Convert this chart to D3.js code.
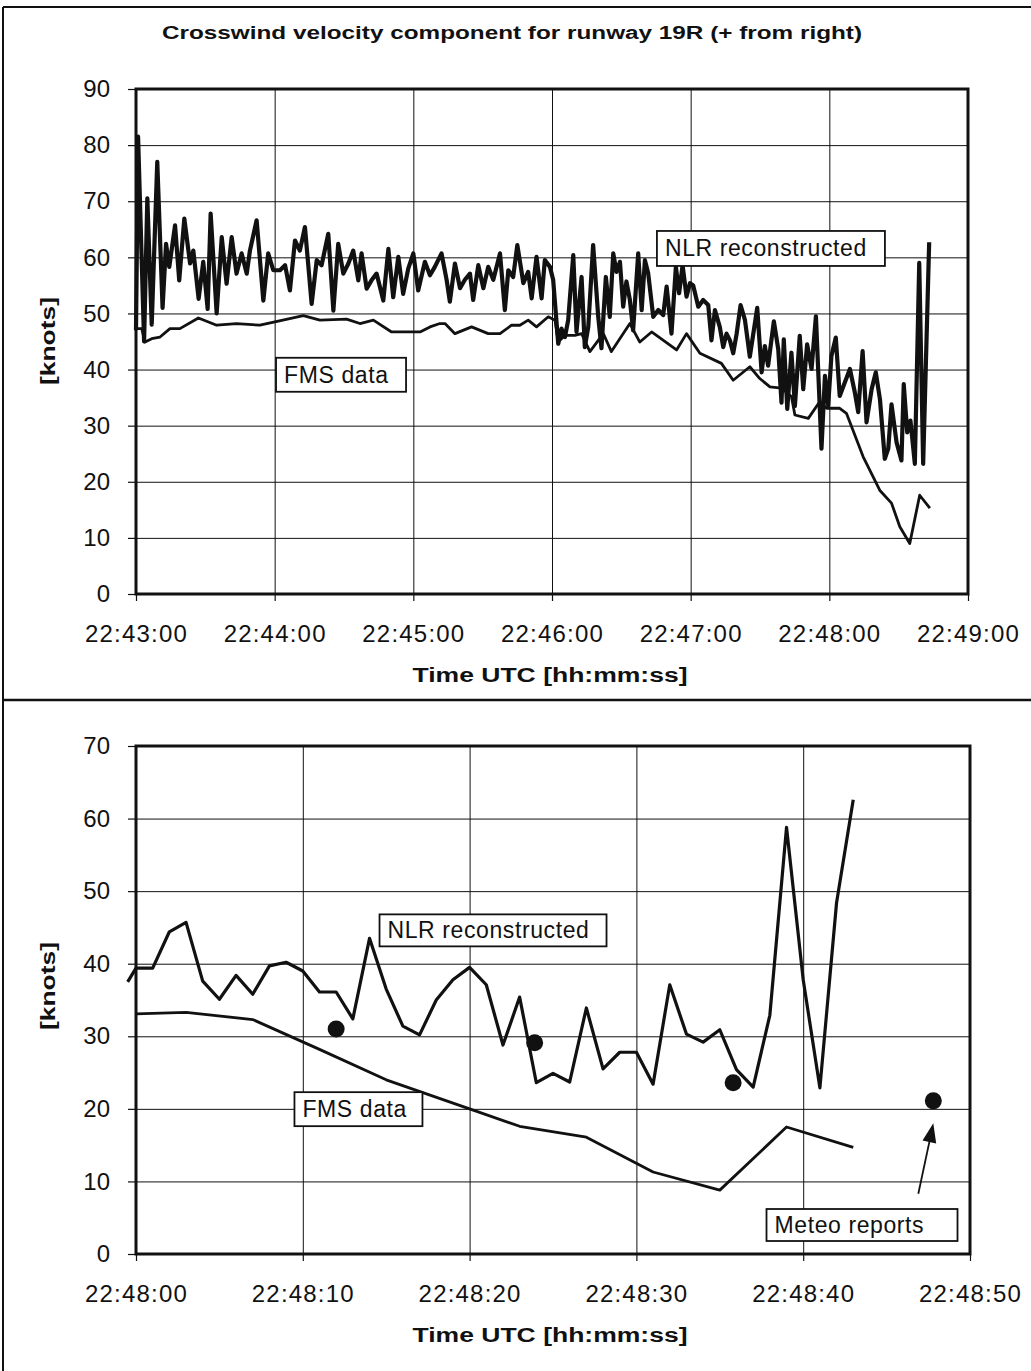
<!doctype html>
<html>

<head>
    <meta charset="utf-8">
    <script src="https://cdnjs.cloudflare.com/ajax/libs/d3/7.8.5/d3.min.js" type="text/JavaScript"></script>
    <style>
        body {
            margin: 0;
            background: #fff;
        }

        svg text {
            font-family: "Liberation Sans", Arial, sans-serif;
            fill: #111;
        }

        .tick line {
            stroke: #111;
        }

        path.domain {
            stroke: none;
        }
    </style>
</head>

<body>
    <div id="viz"></div>
    <script>
        // top panel: seconds after 22:43:00
        var topTickLabels = ["22:43:00", "22:44:00", "22:45:00", "22:46:00", "22:47:00", "22:48:00", "22:49:00"];
        var topYTicks = [0, 10, 20, 30, 40, 50, 60, 70, 80, 90];

        var topNlrSec = [0, 0.9, 3.5, 4.9, 6.8, 9.2, 11.5, 13.0, 14.4, 16.9, 18.7, 20.9, 23.4, 24.8, 27.1, 29.1,
            31.0, 32.3, 34.9, 37.1, 39.2, 41.4, 43.5, 45.7, 47.9, 49.3, 52.2, 55.1, 57.2, 59.4, 62.3, 64.5,
            66.6, 68.8, 70.9, 73.1, 76.0, 78.2, 80.3, 83.2, 85.4, 87.5, 89.7, 91.9, 94.0, 96.2, 97.6, 99.8,
            101.9, 104.1, 107.0, 109.2, 111.3, 113.5, 115.6, 117.8, 120.0, 122.1, 125.0, 127.2, 129.3, 132.2,
            134.4, 135.8, 138.0, 140.2, 142.3, 144.5, 145.9, 148.1, 150.3, 152.4, 154.6, 157.5, 159.6, 161.1,
            163.2, 165.0, 167.6, 169.7, 171.2, 173.3, 175.5, 176.9, 179.1, 180.5, 182.7, 184.1, 185.6, 187.0,
            189.2, 190.6, 192.8, 194.2, 195.7, 197.8, 200.0, 201.4, 203.3, 205.0, 206.5, 207.9, 209.4, 210.8,
            212.2, 213.7, 215.1, 217.3, 218.8, 220.2, 221.6, 223.8, 226.0, 228.1, 229.6, 231.7, 233.6, 235.0,
            236.5, 238.2, 239.7, 241.1, 243.3, 245.4, 247.6, 249.0, 250.5, 252.6, 254.1, 255.5, 257.0, 258.4,
            259.9, 261.6, 263.5, 265.6, 268.8, 270.7, 272.1, 273.5, 276.0, 277.9, 279.3, 280.3, 281.8, 283.6,
            285.1, 287.2, 288.7, 290.4, 292.3, 294.2, 296.6, 298.1, 299.5, 300.9, 302.8, 304.5, 306.7, 308.9,
            311.0, 312.5, 314.4, 316.1, 318.3, 320.1, 321.9, 324.0, 325.5, 326.9, 329.1, 331.2, 332.2, 333.7,
            335.1, 337.0, 338.9, 340.6, 343.2];
        var topNlrKnots = [47, 81.5, 45, 70.5, 48, 77, 51, 62.4, 58.3, 65.7, 55.9, 66.9, 58.9, 61.2, 52.6, 59.2,
            50.8, 67.8, 50, 63.6, 55.3, 63.6, 57.1, 60.7, 57.1, 61.2, 66.6, 52.3, 60.7, 57.7, 57.7, 58.6,
            54.1, 63, 61.2, 65.4, 51.7, 59.5, 58.6, 64.2, 50.5, 62.4, 57.1, 58.9, 61.2, 55.9, 60.7, 54.4,
            55.9, 57.1, 52.3, 61.5, 52.9, 60.1, 53.5, 58, 60.7, 54.1, 59.2, 56.8, 58.3, 60.7,
            56, 52.1, 58.9, 54.5, 56, 57.1, 52.4, 58.6, 54.5, 58.3, 56, 60.7, 50.6, 57.7,
            56.5, 62.2, 55.4, 57.4, 52.7, 60.1, 52.7, 59.5, 58.3, 56, 44.6, 47.3, 45.8, 48.8,
            60.4, 46.7, 56.5, 44, 47.6, 62.2, 49.4, 43.8, 56.5, 49.4, 60.7, 57.4, 59.2, 51.2,
            55.7, 52.4, 47, 60.7, 50.6, 59.5, 57.2, 49.4, 50.6, 49.7, 54.8, 46.4, 58.3, 53.6,
            58.6, 53, 55.4, 55, 51.2, 52.4, 51.5, 45.2, 50.6, 47.6, 44, 46.4, 45.2, 42.9,
            46.4, 51.5, 48.8, 42.3, 51, 39.5, 44.2, 40.7, 48.6, 43.6, 34.1, 45.4, 33, 43,
            33.5, 46, 36.5, 44.5, 40.1, 49.5, 25.9, 38.9, 33.6, 42.4, 45.7, 35.3, 37.7, 40.1,
            36, 32.4, 43.3, 30.6, 36.5, 39.5, 34.7, 24.1, 25.9, 33.8, 27, 23.8, 37.4, 28.8,
            30.9, 23.2, 59, 23.2, 62.7];

        var topFmsSec = [0, 2.5, 3.9, 6.8, 10.4, 14.7, 19.0, 27.0, 34.9, 43.5, 53.6, 60.1, 72.4, 79.6, 91.1, 96.9,
            102.7, 110.6, 122.9, 127.2, 131.5, 133.7, 138.0, 145.2, 152.4, 157.5, 162.5, 166.1, 169.7, 173.3,
            178.4, 181.3, 182.7, 185.6, 189.9, 192.8, 196.4, 202.2, 205.7, 213.7, 218.0, 223.1, 233.9, 238.2,
            244.0, 253.3, 258.4, 265.6, 269.9, 274.3, 279.3, 283.6, 285.1, 290.9, 295.9, 298.8, 304.5, 307.4,
            314.6, 321.8, 326.9, 330.5, 334.8, 339.1, 343.5];
        var topFmsKnots = [47.3, 47.3, 44.9, 45.5, 45.8, 47.3, 47.3, 49.2, 47.9, 48.2, 47.9, 48.5, 49.6, 48.8, 49.0, 48.2,
            48.8, 46.7, 46.7, 47.6, 48.2, 48.2, 46.4, 47.6, 46.4, 46.4, 47.9, 47.9, 48.8, 47.6,
            49.4, 48.8, 44.9, 46.1, 46.1, 46.4, 43.2, 46.4, 43.2, 48.2, 44.9, 46.7, 43.5, 46.4,
            42.9, 41.1, 38.1, 40.5, 38.4, 36.9, 36.7, 35.2, 31.9, 31.3, 34.3, 33.1, 33.1, 32.2,
            24.5, 18.5, 16.2, 12, 9.0, 17.6, 15.3];

        // bottom panel: seconds after 22:48:00
        var bottomTickLabels = ["22:48:00", "22:48:10", "22:48:20", "22:48:30", "22:48:40", "22:48:50"];
        var bottomYTicks = [0, 10, 20, 30, 40, 50, 60, 70];

        var bottomNlrSec = [-0.5, 0, 1, 2, 3, 4, 5, 6, 7, 8, 9, 10, 11, 12, 13, 14, 15, 16, 17, 18, 19, 20, 21,
            22, 23, 24, 25, 26, 27, 28, 29, 30, 31, 32, 33, 34, 35, 36, 37, 38, 39, 40, 41, 42, 43];
        var bottomNlrKnots = [37.5, 39.4, 39.4, 44.4, 45.7, 37.6, 35.1, 38.4, 35.8, 39.7, 40.2, 39.0, 36.1, 36.1,
            32.4, 43.5, 36.5, 31.4, 30.2, 35.0, 37.8, 39.5, 37.1, 28.8, 35.4, 23.6, 24.9, 23.7, 33.9, 25.5,
            27.8, 27.8, 23.4, 37.1, 30.3, 29.2, 30.9, 25.4, 23.0, 32.9, 58.8, 37.8, 22.9, 48.4, 62.6];

        var bottomFmsSec = [0, 3, 7, 11, 15, 20, 23, 27, 31, 35, 39, 43];
        var bottomFmsKnots = [33.1, 33.3, 32.3, 28.2, 24.0, 20.0, 17.6, 16.1, 11.3, 8.8, 17.5, 14.7];

        var meteoSec = [12.0, 23.9, 35.8, 47.8];
        var meteoKnots = [31.0, 29.1, 23.6, 21.1];

        var width = 1031,
            height = 1371;

        var svg = d3.select("#viz")
            .append("svg")
            .attr("width", width)
            .attr("height", height);

        // outer frame of the figure
        svg.append("line").attr("x1", 3).attr("x2", width).attr("y1", 7).attr("y2", 7)
            .attr("stroke", "#111").attr("stroke-width", 2);
        svg.append("line").attr("x1", 3).attr("x2", 3).attr("y1", 7).attr("y2", height)
            .attr("stroke", "#111").attr("stroke-width", 2);
        svg.append("line").attr("x1", 3).attr("x2", width).attr("y1", 700).attr("y2", 700)
            .attr("stroke", "#111").attr("stroke-width", 2.5);

        svg.append("text")
            .attr("x", 512)
            .attr("y", 39)
            .attr("text-anchor", "middle")
            .attr("font-size", 18)
            .attr("font-weight", "bold")
            .attr("textLength", 700)
            .attr("lengthAdjust", "spacingAndGlyphs")
            .text("Crosswind velocity component for runway 19R (+ from right)");

        function zip(a, b) {
            return a.map(function (d, i) { return [d, b[i]]; });
        }

        function drawPanel(cfg) {
            var x = d3.scaleLinear().domain(cfg.xDomain).range([cfg.left, cfg.right]);
            var y = d3.scaleLinear().domain(cfg.yDomain).range([cfg.bottom, cfg.top]);
            var g = svg.append("g");

            // grid
            g.append("g")
                .attr("transform", "translate(0," + cfg.bottom + ")")
                .call(d3.axisBottom(x).tickValues(cfg.xTicks).tickSize(-(cfg.bottom - cfg.top)).tickFormat(""))
                .selectAll(".tick line").attr("stroke", "#555").attr("stroke-width", 1);
            g.append("g")
                .attr("transform", "translate(" + cfg.left + ",0)")
                .call(d3.axisLeft(y).tickValues(cfg.yTicks).tickSize(-(cfg.right - cfg.left)).tickFormat(""))
                .selectAll(".tick line").attr("stroke", "#555").attr("stroke-width", 1);

            // axes with labels
            var xa = g.append("g")
                .attr("transform", "translate(0," + cfg.bottom + ")")
                .call(d3.axisBottom(x).tickValues(cfg.xTicks).tickSize(7).tickPadding(24)
                    .tickFormat(function (d, i) { return cfg.xLabels[i]; }));
            xa.selectAll("text").attr("font-size", 24).attr("letter-spacing", 1.2)
                .attr("font-family", "Liberation Sans, Arial, sans-serif").attr("fill", "#111");
            xa.selectAll(".tick line").attr("stroke-width", 1.2);

            var ya = g.append("g")
                .attr("transform", "translate(" + cfg.left + ",0)")
                .call(d3.axisLeft(y).tickValues(cfg.yTicks).tickSize(8).tickPadding(18));
            ya.selectAll("text").attr("font-size", 24)
                .attr("font-family", "Liberation Sans, Arial, sans-serif").attr("fill", "#111");
            ya.selectAll(".tick line").attr("stroke-width", 1.2);

            // axis titles
            g.append("text")
                .attr("x", 550)
                .attr("y", cfg.bottom + 88)
                .attr("text-anchor", "middle")
                .attr("font-size", 20)
                .attr("font-weight", "bold")
                .attr("textLength", 275)
                .attr("lengthAdjust", "spacingAndGlyphs")
                .text("Time UTC [hh:mm:ss]");
            g.append("text")
                .attr("transform", "translate(55," + cfg.yTitleY + ")rotate(-90)")
                .attr("text-anchor", "middle")
                .attr("font-size", 20)
                .attr("font-weight", "bold")
                .attr("textLength", 88)
                .attr("lengthAdjust", "spacingAndGlyphs")
                .text("[knots]");

            var line = d3.line()
                .x(function (d) { return x(d[0]); })
                .y(function (d) { return y(d[1]); });

            g.append("path")
                .datum(zip(cfg.fmsSec, cfg.fmsKnots))
                .attr("d", line)
                .attr("fill", "none")
                .attr("stroke", "#111")
                .attr("stroke-width", cfg.fmsWidth)
                .attr("stroke-linejoin", "round");

            g.append("path")
                .datum(zip(cfg.nlrSec, cfg.nlrKnots))
                .attr("d", line)
                .attr("fill", "none")
                .attr("stroke", "#111")
                .attr("stroke-width", cfg.nlrWidth)
                .attr("stroke-linejoin", "round");

            // plot frame
            g.append("rect")
                .attr("x", cfg.left)
                .attr("y", cfg.top)
                .attr("width", cfg.right - cfg.left)
                .attr("height", cfg.bottom - cfg.top)
                .attr("fill", "none")
                .attr("stroke", "#111")
                .attr("stroke-width", 3);

            return { g: g, x: x, y: y };
        }

        function labelBox(g, px, py, w, h, txt) {
            g.append("rect")
                .attr("x", px).attr("y", py)
                .attr("width", w).attr("height", h)
                .attr("fill", "#fff")
                .attr("stroke", "#111")
                .attr("stroke-width", 1.8);
            g.append("text")
                .attr("x", px + 8)
                .attr("y", py + h / 2 + 8)
                .attr("font-size", 23)
                .attr("letter-spacing", 0.6)
                .text(txt);
        }

        var topPanel = drawPanel({
            left: 136, right: 968, top: 89, bottom: 594,
            xDomain: [0, 360], yDomain: [0, 90],
            xTicks: d3.range(0, 361, 60), yTicks: topYTicks, xLabels: topTickLabels,
            yTitleY: 341,
            nlrSec: topNlrSec, nlrKnots: topNlrKnots, nlrWidth: 4.2,
            fmsSec: topFmsSec, fmsKnots: topFmsKnots, fmsWidth: 2.8
        });
        labelBox(topPanel.g, topPanel.x(225.4), topPanel.y(64.7), 228, 35, "NLR reconstructed");
        labelBox(topPanel.g, topPanel.x(60.6), topPanel.y(42.1), 130, 34, "FMS data");

        var botPanel = drawPanel({
            left: 136, right: 970, top: 746, bottom: 1254,
            xDomain: [0, 50], yDomain: [0, 70],
            xTicks: d3.range(0, 51, 10), yTicks: bottomYTicks, xLabels: bottomTickLabels,
            yTitleY: 986,
            nlrSec: bottomNlrSec, nlrKnots: bottomNlrKnots, nlrWidth: 3.2,
            fmsSec: bottomFmsSec, fmsKnots: bottomFmsKnots, fmsWidth: 2.8
        });

        // meteo report dots
        botPanel.g.selectAll("circle.meteo")
            .data(zip(meteoSec, meteoKnots))
            .enter()
            .append("circle")
            .attr("class", "meteo")
            .attr("cx", function (d) { return botPanel.x(d[0]); })
            .attr("cy", function (d) { return botPanel.y(d[1]); })
            .attr("r", 8.5)
            .attr("fill", "#111");

        labelBox(botPanel.g, botPanel.x(14.6), botPanel.y(46.8), 227, 32, "NLR reconstructed");
        labelBox(botPanel.g, botPanel.x(9.5), botPanel.y(22.3), 128, 34, "FMS data");
        labelBox(botPanel.g, botPanel.x(37.8), botPanel.y(6.2), 191, 32, "Meteo reports");

        // arrow to the last meteo report
        var ax1 = botPanel.x(46.9), ay1 = botPanel.y(8.3), ax2 = botPanel.x(47.8), ay2 = botPanel.y(18.0);
        var ang = Math.atan2(ay2 - ay1, ax2 - ax1);
        botPanel.g.append("line")
            .attr("x1", ax1).attr("y1", ay1)
            .attr("x2", ax2 - 14 * Math.cos(ang)).attr("y2", ay2 - 14 * Math.sin(ang))
            .attr("stroke", "#111").attr("stroke-width", 1.8);
        var head = [[0, 0], [-19, -7], [-19, 7]].map(function (p) {
            return [ax2 + p[0] * Math.cos(ang) - p[1] * Math.sin(ang), ay2 + p[0] * Math.sin(ang) + p[1] * Math.cos(ang)];
        });
        botPanel.g.append("path")
            .attr("d", "M" + head.join("L") + "Z")
            .attr("fill", "#111");
    </script>
</body>

</html>
